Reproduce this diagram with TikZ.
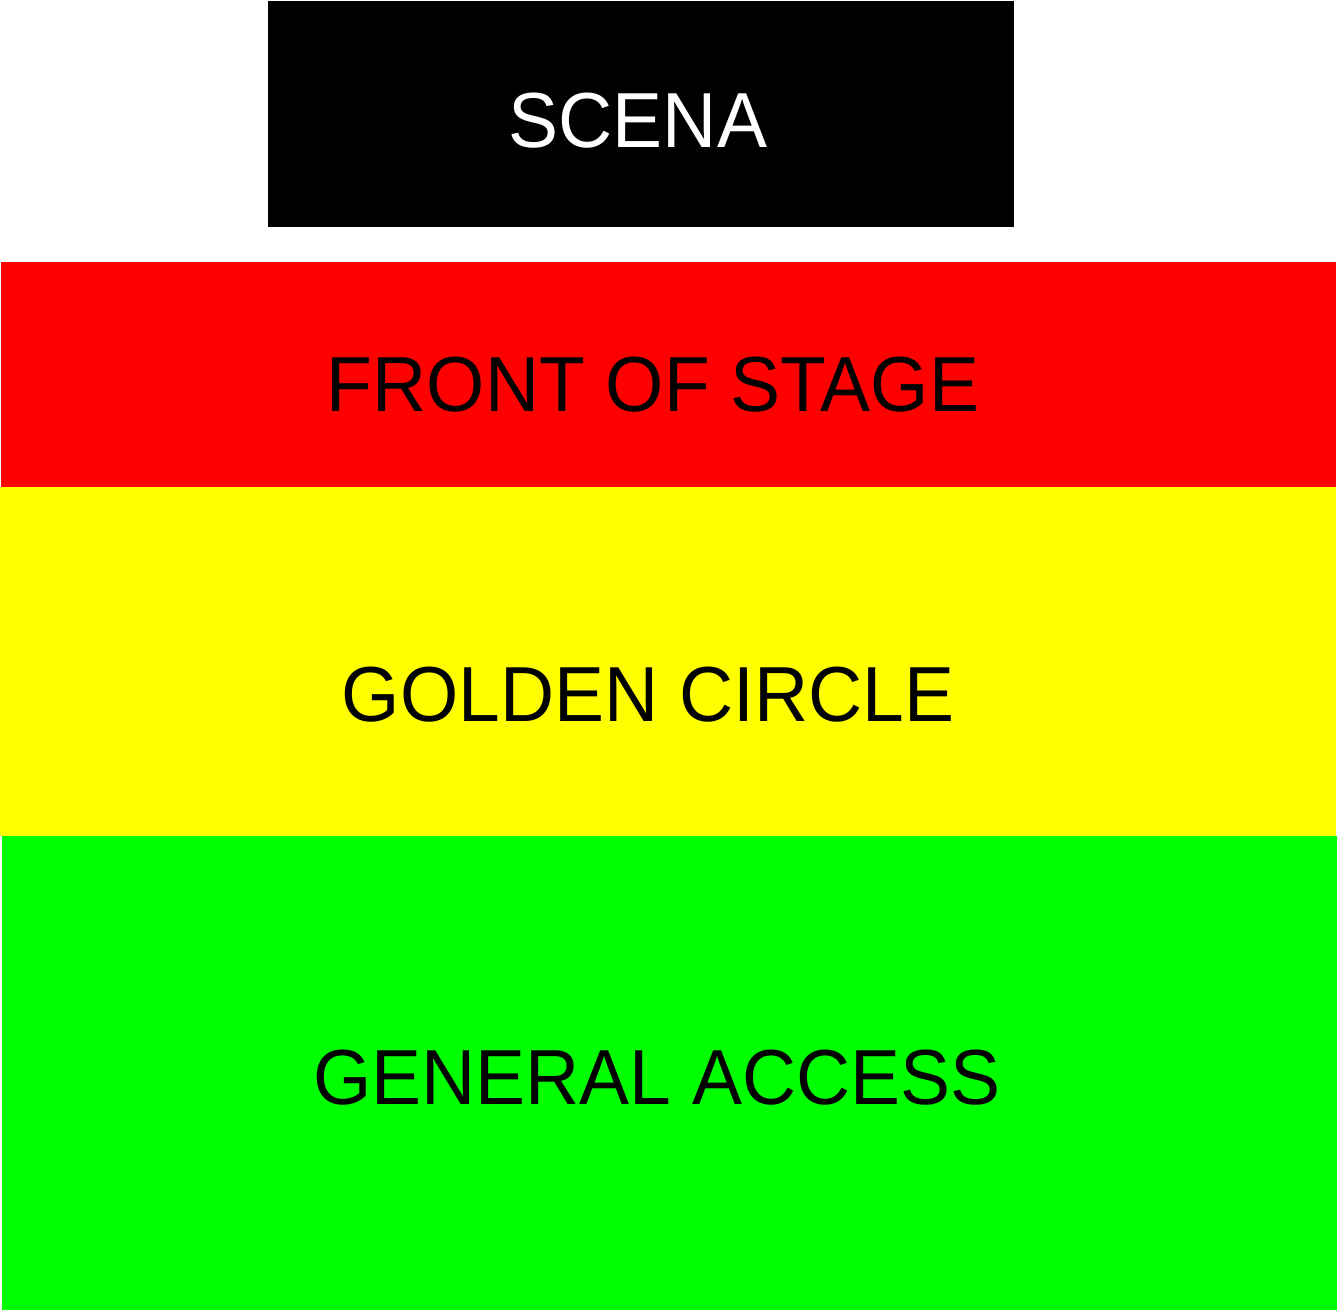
\documentclass[tikz,border=0pt]{standalone}
\usepackage{fontspec}
\newfontfamily\zonefont[FakeStretch=0.96]{Liberation Sans}
\usepackage{tikz}
\definecolor{zonered}{RGB}{255,0,0}
\definecolor{zoneyellow}{RGB}{255,255,0}
\definecolor{zonegreen}{RGB}{0,255,0}

\begin{document}
\begin{tikzpicture}[x=0.01cm, y=-0.01cm,
  zone/.style={font=\zonefont\fontsize{22.2pt}{26pt}\selectfont, anchor=base, inner sep=0pt}]
\useasboundingbox (0,0) rectangle (1338,1312);

%%% areas

% stage
\fill [black] (268,1) rectangle (1014,227);

% front of stage, golden circle, general access
\fill [zonered] (1,262) rectangle (1336,487);
\fill [zoneyellow] (0,487) rectangle (1336,836);
\fill [zonegreen] (2,836) rectangle (1337,1310);

%%% labels
\node [zone, white] (scena) at (638,147) {SCENA};
\node [zone] (fos) at (653,412) {FRONT OF STAGE};
\node [zone] (gc) at (648,721) {GOLDEN CIRCLE};
\node [zone] (ga) at (657,1104) {GENERAL ACCESS};
\end{tikzpicture}
\end{document}
